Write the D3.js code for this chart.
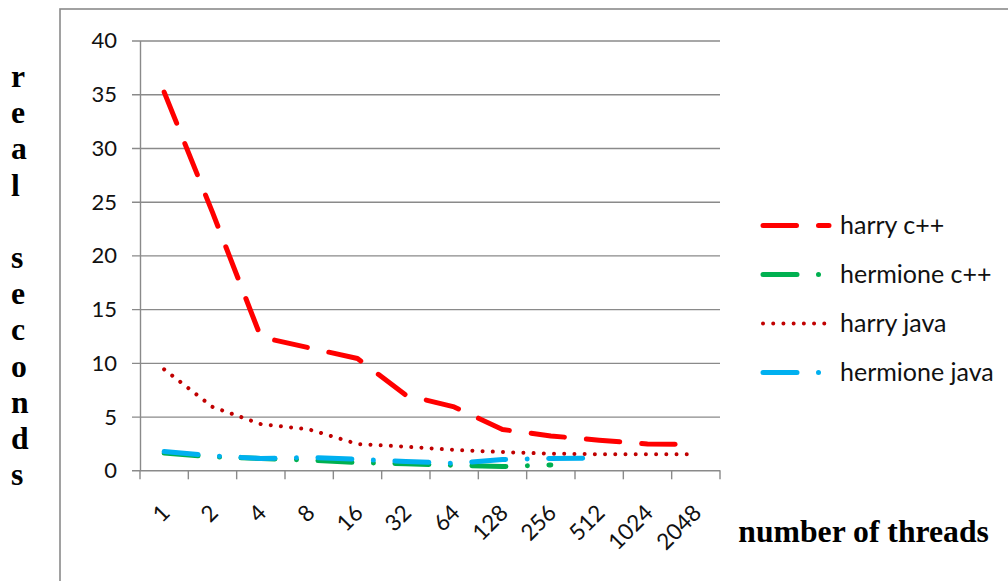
<!DOCTYPE html>
<html>
<head>
<meta charset="utf-8">
<script src="https://cdn.jsdelivr.net/npm/d3@7"></script>
<style>
  html, body { margin: 0; padding: 0; background: #ffffff; }
  svg { display: block; }
</style>
</head>
<body>
<svg id="chart" width="1008" height="581"></svg>
<script>
// Run time (real seconds) against number of threads
const categories = ["1", "2", "4", "8", "16", "32", "64", "128", "256", "512", "1024", "2048"];
const harryCpp      = [35.2, 24.0, 12.4, 11.4, 10.4, 7.0, 5.9, 3.8, 3.2, 2.8, 2.45, 2.4];
const hermioneCpp   = [1.6, 1.25, 1.1, 0.95, 0.72, 0.6, 0.47, 0.35, 0.5];
const harryJava     = [9.4, 5.9, 4.3, 3.8, 2.45, 2.2, 1.9, 1.7, 1.55, 1.5, 1.5, 1.5];
const hermioneJava  = [1.75, 1.35, 1.1, 1.2, 1.02, 0.82, 0.65, 1.0, 1.1, 1.15];
const seriesNames   = ["harry c++", "hermione c++", "harry java", "hermione java"];
const yTicks        = [0, 5, 10, 15, 20, 25, 30, 35, 40];
const yTitleLetters = ["r", "e", "a", "l", "", "s", "e", "c", "o", "n", "d", "s"];
const xTitle        = "number of threads";

// line styling per series
const styles = [
  { color: "#FF0000", width: 5,   dash: "33.5 22" },
  { color: "#00B050", width: 5,   dash: "34 21.5 0.01 21.5" },
  { color: "#C00000", width: 4,   dash: "0.01 10.2" },
  { color: "#00B0F0", width: 5,   dash: "34 21.5 0.01 21.5" }
];
const seriesValues = [harryCpp, hermioneCpp, harryJava, hermioneJava];
const series = seriesNames.map((name, i) => ({ name, values: seriesValues[i], ...styles[i] }));

const svg = d3.select("#chart");
const labelFont = "Lato, 'Open Sans', sans-serif";
const titleFont = "'Liberation Serif', 'Times New Roman', serif";
const gridColor = "#8a8a8a";

// outer chart frame
svg.append("rect")
  .attr("x", 60).attr("y", 9)
  .attr("width", 1000).attr("height", 600)
  .attr("fill", "none").attr("stroke", gridColor).attr("stroke-width", 1.6);

const plot = { left: 140, right: 720, top: 40.5, bottom: 470.3 };

const x = d3.scaleBand().domain(categories).range([plot.left, plot.right]).padding(0);
const y = d3.scaleLinear().domain([0, 40]).range([plot.bottom, plot.top]);

// y axis with horizontal gridlines
const yAxis = svg.append("g")
  .attr("transform", `translate(${plot.left},0)`)
  .call(d3.axisLeft(y).tickValues(yTicks).tickSizeInner(-(plot.right - plot.left)).tickSizeOuter(0));
yAxis.select(".domain").attr("stroke", gridColor).attr("stroke-width", 1.4);
yAxis.selectAll(".tick line").attr("x1", -8).attr("stroke", gridColor).attr("stroke-width", 1.4);
yAxis.selectAll(".tick text")
  .attr("x", -23).attr("dy", "0.34em")
  .attr("font-family", labelFont).attr("font-size", 22).attr("fill", "#111");

// x axis: ticks on category boundaries, labels rotated under each category
const xAxis = svg.append("g")
  .attr("transform", `translate(0,${plot.bottom})`)
  .call(d3.axisBottom(x).tickSize(0).tickPadding(0));
xAxis.select(".domain").remove();
xAxis.selectAll(".tick text")
  .attr("text-anchor", "end")
  .attr("font-family", labelFont).attr("font-size", 22.5).attr("fill", "#111")
  .attr("x", 0).attr("y", 0).attr("dy", 0)
  .attr("transform", "translate(7,44) rotate(-45)");

const boundaries = d3.range(categories.length + 1).map(i => plot.left + i * x.step());
svg.append("g").selectAll("line").data(boundaries).join("line")
  .attr("x1", d => d).attr("x2", d => d)
  .attr("y1", plot.bottom).attr("y2", plot.bottom + 9)
  .attr("stroke", gridColor).attr("stroke-width", 1.4);

// series lines
const line = d3.line()
  .defined(d => d != null)
  .x((d, i) => x(categories[i]) + x.bandwidth() / 2)
  .y(d => y(d));

svg.append("g").selectAll("path").data(series).join("path")
  .attr("d", d => line(d.values))
  .attr("fill", "none")
  .attr("stroke", d => d.color)
  .attr("stroke-width", d => d.width)
  .attr("stroke-dasharray", d => d.dash)
  .attr("stroke-linecap", "round")
  .attr("stroke-linejoin", "round");

// legend
const legend = svg.append("g");
const rows = legend.selectAll("g").data(series).join("g")
  .attr("transform", (d, i) => `translate(0,${225.5 + i * 49})`);
rows.append("line")
  .attr("x1", 763).attr("x2", 829).attr("y1", 0).attr("y2", 0)
  .attr("stroke", d => d.color)
  .attr("stroke-width", d => d.width)
  .attr("stroke-dasharray", d => d.dash)
  .attr("stroke-linecap", "round");
rows.append("text")
  .attr("x", 840).attr("y", 8)
  .attr("font-family", labelFont).attr("font-size", 25).attr("fill", "#111")
  .text(d => d.name);

// axis titles
svg.append("g").selectAll("text").data(yTitleLetters).join("text")
  .attr("x", 11).attr("y", (d, i) => 87 + i * 36.2)
  .attr("font-family", titleFont).attr("font-weight", "bold").attr("font-size", 31.7)
  .attr("fill", "#000")
  .text(d => d);

svg.append("text")
  .attr("x", 738.3).attr("y", 541.7)
  .attr("font-family", titleFont).attr("font-weight", "bold").attr("font-size", 31.7)
  .attr("fill", "#000")
  .text(xTitle);
</script>
</body>
</html>
